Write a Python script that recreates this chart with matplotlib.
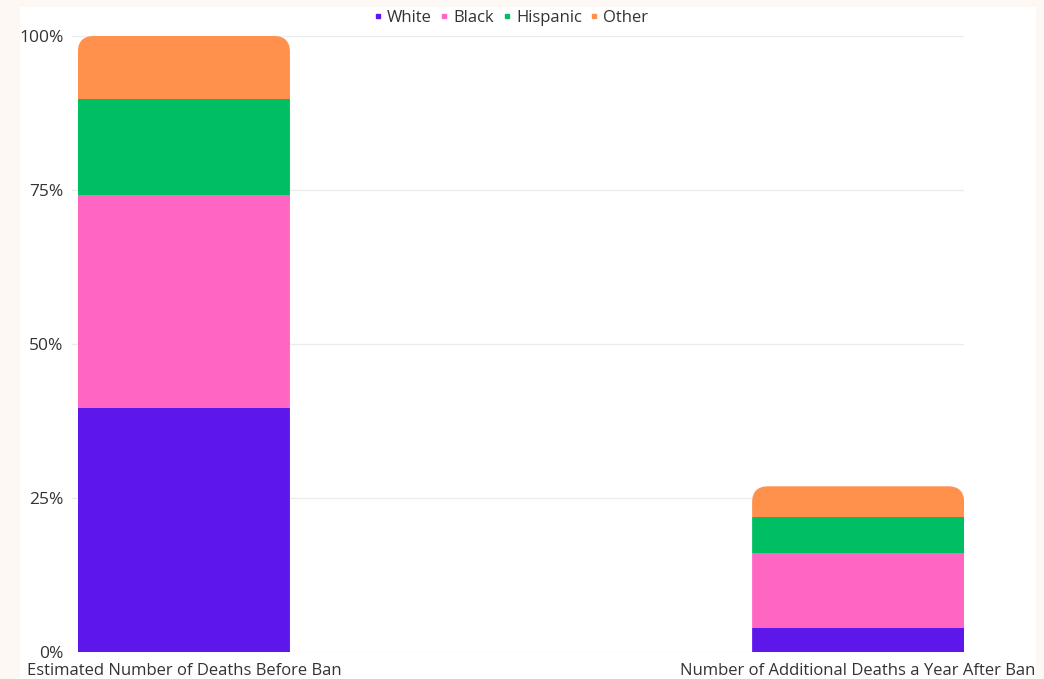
import matplotlib.pyplot as plt
from matplotlib.patches import FancyBboxPatch, Rectangle
from matplotlib.lines import Line2D

categories = ["Estimated Number of Deaths Before Ban",
              "Number of Additional Deaths a Year After Ban"]
groups = ["White", "Black", "Hispanic", "Other"]
white = [39.6, 3.9]
black = [34.6, 12.2]
hispanic = [15.6, 5.8]
other = [10.2, 5.0]
colors = ["#5E17EB", "#FF66C4", "#00BF63", "#FF914D"]
yticks = [0, 25, 50, 75, 100]
ytick_labels = ["0%", "25%", "50%", "75%", "100%"]

plt.rcParams['font.family'] = ['Open Sans', 'DejaVu Sans']

W, H = 1044, 679
fig = plt.figure(figsize=(W / 100, H / 100), dpi=100)
fig.patch.set_facecolor("#fef8f4")
# white panel behind the chart
fig.patches.append(Rectangle((20 / W, 0), 1016 / W, 672 / H, transform=fig.transFigure,
                             facecolor="white", edgecolor="none", zorder=-10))

ax = fig.add_axes([72 / W, 27 / H, 892 / W, 616 / H])
ax.set_facecolor("none")

x = [0, 1]
width = 0.3145
xlim = (-0.166, 1.157)
ax.set_xlim(*xlim)
ax.set_ylim(0, 100)

series = [white, black, hispanic, other]
bottom = [0, 0]
bars = []
for vals, col, name in zip(series, colors, groups):
    b = ax.bar(x, vals, width, bottom=bottom, color=col, label=name, zorder=3, linewidth=0)
    bars.append(b)
    bottom = [bo + v for bo, v in zip(bottom, vals)]

# rounded top corners: clip each stack with a rounded box
px_x = 892 / (xlim[1] - xlim[0])
px_y = 616 / 100
r_px = 16
rx = r_px / px_x
ry = r_px / px_y
for i, xi in enumerate(x):
    clip = FancyBboxPatch((xi - width / 2, -30), width, bottom[i] + 30,
                          boxstyle="round,pad=0,rounding_size=%f" % rx,
                          mutation_aspect=ry / rx, transform=ax.transData,
                          facecolor="none", edgecolor="none")
    ax.add_patch(clip)
    for b in bars:
        b[i].set_clip_path(clip)

ax.set_yticks(yticks)
ax.set_yticklabels(ytick_labels)
ax.grid(axis="y", color="#ececec", linewidth=1, zorder=0)
ax.set_xticks(x)
ax.set_xticklabels(categories)
for s in ax.spines.values():
    s.set_visible(False)
ax.tick_params(axis="both", length=0, colors="#333333")
ax.tick_params(axis="y", pad=6, labelsize=12.5)
ax.tick_params(axis="x", pad=8, labelsize=12)

handles = [Line2D([], [], marker="s", linestyle="none", markersize=3,
                  color=c) for c in colors]
fig.legend(handles, groups, loc="center", bbox_to_anchor=(0.49, 0.974), ncol=4,
           frameon=False, fontsize=12, handlelength=0.4, handletextpad=0.35,
           columnspacing=0.55, labelcolor="#333333")

fig.savefig("out.png", dpi=100)
